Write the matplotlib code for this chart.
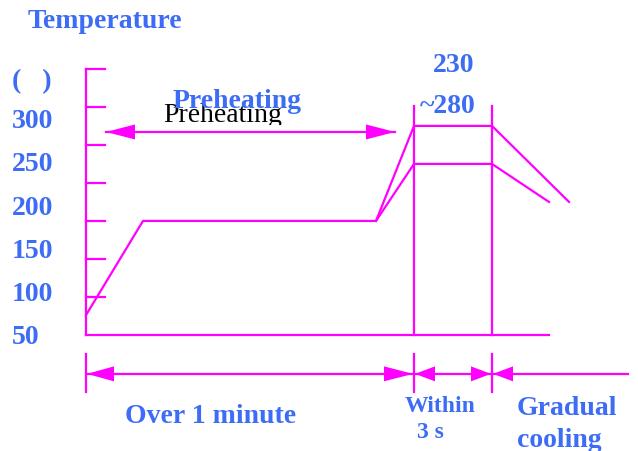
import matplotlib.pyplot as plt
from matplotlib.transforms import Bbox

plt.rcParams['font.family'] = ['Liberation Serif', 'DejaVu Serif']

magenta = '#ff00ff'
blue = '#3d6df5'

# diagram time positions (arbitrary units, left to right)
t_axis = 86
t_soak = 143
t_soak_end = 376
t_peak = 414
t_peak_end = 492
t_cool_low = 549
t_cool_high = 569

# temperature profile (upper and lower limits)
upper_t = [t_axis, t_soak, t_soak_end, t_peak, t_peak_end, t_cool_high]
upper_T = [73, 182, 182, 292, 292, 204]
lower_t = [t_soak_end, t_peak, t_peak_end, t_cool_low]
lower_T = [182, 248, 248, 204]

temp_labels = [300, 250, 200, 150, 100, 50]
axis_ticks = [358, 314, 270, 226, 182, 138, 94]
T_base = 50
T_top = 358
T_marker_top = 315
T_preheat_arrow = 285
T_span_arrow = 5

PX_PER_DEG = 0.864


def head(ax, tip, y, direction, length, half=7.5):
    """filled triangle, direction -1 points left, +1 points right"""
    w = half / PX_PER_DEG
    base = tip - direction * length
    ax.fill([tip, base, base], [y, y + w, y - w], color=magenta, lw=0)


def dim_arrow(ax, x0, x1, y, left=28, right=28):
    ax.plot([x0, x1], [y, y], color=magenta, lw=1.6)
    if left:
        head(ax, x0, y, -1, left)
    if right:
        head(ax, x1, y, 1, right)


fig = plt.figure(figsize=(6.38, 4.52), dpi=100)
ax = fig.add_axes([0, 0, 1, 1])
ax.set_xlim(0, 638)
ax.set_ylim(-84.3, 438.9)
ax.axis('off')

# axes of the diagram
ax.plot([t_axis, t_axis], [T_base, T_top], color=magenta, lw=1.6)
ax.plot([t_axis, t_cool_low], [T_base, T_base], color=magenta, lw=1.6)
for T in axis_ticks:
    ax.plot([t_axis, 105], [T, T], color=magenta, lw=1.6)

# profile
ax.plot(upper_t, upper_T, color=magenta, lw=1.6)
ax.plot(lower_t, lower_T, color=magenta, lw=1.6)
for t in [t_peak, t_peak_end]:
    ax.plot([t, t], [T_base, T_marker_top], color=magenta, lw=1.6)

# preheating arrow
dim_arrow(ax, 106, 395, T_preheat_arrow, left=29, right=29)

# time spans below the axis
for t in [t_axis, t_peak, t_peak_end]:
    ax.plot([t, t], [28, -16], color=magenta, lw=1.6)
dim_arrow(ax, t_axis + 1, t_peak - 1, T_span_arrow, left=27, right=29)
dim_arrow(ax, t_peak + 1, t_peak_end - 1, T_span_arrow, left=20, right=20)
dim_arrow(ax, t_peak_end + 1, 628, T_span_arrow, left=20, right=0)

# texts
bold = dict(color=blue, fontsize=20, fontweight='bold')
for T in temp_labels:
    ax.text(12, T - 2, str(T), ha='left', va='center', **bold)


def ptext(x, y, s, **kw):
    return fig.text(x / 638, 1 - y / 452, s, ha='left', va='baseline', **kw)


ptext(28, 28, 'Temperature', **bold)
ptext(12, 88, '(   )', **bold)
black = ptext(163, 122, 'Preheating', color='black', fontsize=20)
# the black label is cut off just under its baseline
black.set_clip_box(Bbox.from_extents(0, 452 - 126, 638, 452))
black.set_clip_on(True)
ptext(173, 108, 'Preheating', **bold)
ptext(433, 72, '230', **bold)
ptext(420, 113, '~280', **bold)
ptext(125, 423, 'Over 1 minute', **bold)
ptext(405, 412, 'Within', color=blue, fontsize=17, fontweight='bold')
ptext(417, 438, '3 s', color=blue, fontsize=17, fontweight='bold')
ptext(517, 415, 'Gradual', **bold)
ptext(517, 447, 'cooling', **bold)

plt.savefig('out.png', dpi=100)
